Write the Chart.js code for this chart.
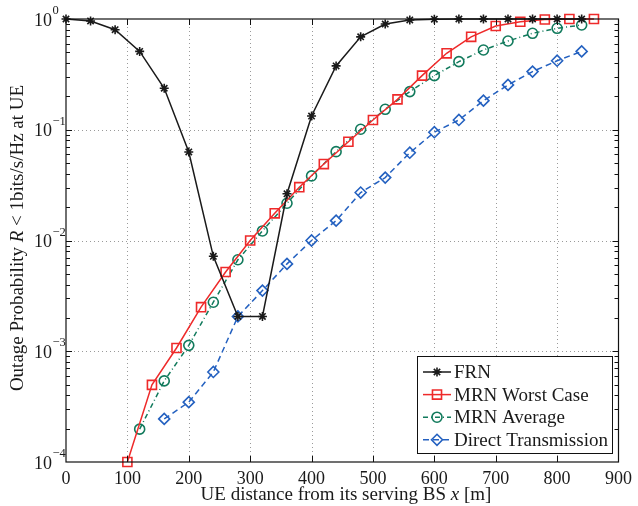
<!DOCTYPE html>
<html>
<head>
<meta charset="utf-8">
<script src="https://cdn.jsdelivr.net/npm/chart.js@4.4.1/dist/chart.umd.min.js"></script>
<style>
    html, body { margin: 0; padding: 0; background: #fff; }
    #wrap { width: 638px; height: 506px; }
</style>
</head>
<body>
<div id="wrap"><canvas id="chart" width="638" height="506"></canvas></div>
<script>
// distances [m]
const frnX = [0, 40, 80, 120, 160, 200, 240, 280, 320, 360, 400, 440, 480, 520, 560, 600, 640, 680, 720, 760, 800, 840];
const frnY = [1.0, 0.96, 0.80, 0.51, 0.237, 0.063, 0.0072, 0.00206, 0.00206, 0.0264, 0.133, 0.377, 0.69, 0.90, 0.98, 0.995, 1.0, 1.0, 1.0, 1.0, 1.0, 1.0];

const worstX = [100, 140, 180, 220, 260, 300, 340, 380, 420, 460, 500, 540, 580, 620, 660, 700, 740, 780, 820, 860];
const worstY = [1e-4, 4.97e-4, 1.07e-3, 2.5e-3, 5.2e-3, 0.0100, 0.0176, 0.0303, 0.049, 0.078, 0.1225, 0.188, 0.308, 0.49, 0.69, 0.865, 0.945, 0.99, 1.0, 1.0];

const avgX = [120, 160, 200, 240, 280, 320, 360, 400, 440, 480, 520, 560, 600, 640, 680, 720, 760, 800, 840];
const avgY = [1.98e-4, 5.4e-4, 1.13e-3, 2.77e-3, 6.7e-3, 0.0122, 0.0217, 0.0383, 0.0634, 0.101, 0.153, 0.221, 0.308, 0.412, 0.525, 0.633, 0.743, 0.824, 0.883];

const directX = [160, 200, 240, 280, 320, 360, 400, 440, 480, 520, 560, 600, 640, 680, 720, 760, 800, 840];
const directY = [2.45e-4, 3.47e-4, 6.5e-4, 2.06e-3, 3.53e-3, 6.15e-3, 0.01, 0.0151, 0.0271, 0.037, 0.062, 0.095, 0.1225, 0.183, 0.254, 0.335, 0.42, 0.51];

const xTicks = [0, 100, 200, 300, 400, 500, 600, 700, 800, 900];
const yExponents = [0, -1, -2, -3, -4];

const seriesNames = ['FRN', 'MRN Worst Case', 'MRN Average', 'Direct Transmission'];

const SERIF = '"Liberation Serif", "DejaVu Serif", serif';

function pts(xs, ys) {
    return xs.map((x, i) => ({ x: x, y: ys[i] }));
}

const datasets = [
    {
        label: seriesNames[0], data: pts(frnX, frnY),
        borderColor: '#1a1a1a', backgroundColor: '#1a1a1a',
        pointStyle: 'star', pointRadius: 4.5, pointBorderWidth: 1.6, borderWidth: 1.5
    },
    {
        label: seriesNames[1], data: pts(worstX, worstY),
        borderColor: '#ee2a2a', backgroundColor: 'rgba(255,255,255,0)',
        pointStyle: 'rect', pointRadius: 6.4, pointBorderWidth: 1.6, borderWidth: 1.5
    },
    {
        label: seriesNames[2], data: pts(avgX, avgY),
        borderColor: '#117a5c', backgroundColor: 'rgba(255,255,255,0)',
        pointStyle: 'circle', pointRadius: 5, pointBorderWidth: 1.6, borderWidth: 1.5,
        borderDash: [5, 3, 1, 3]
    },
    {
        label: seriesNames[3], data: pts(directX, directY),
        borderColor: '#2461c0', backgroundColor: 'rgba(255,255,255,0)',
        pointStyle: 'rectRot', pointRadius: 5.5, pointBorderWidth: 1.6, borderWidth: 1.5,
        borderDash: [6, 4]
    }
].map(d => Object.assign(d, { showLine: true, clip: false, tension: 0 }));

// grid, box, inward ticks, y labels with exponents, axis titles, legend
const decor = {
    id: 'decor',
    beforeDatasetsDraw(chart) {
        const { ctx, chartArea: a, scales: { x, y } } = chart;
        ctx.save();
        ctx.strokeStyle = '#9a9a9a';
        ctx.lineWidth = 1;
        ctx.setLineDash([1, 3]);
        xTicks.slice(1, -1).forEach(v => {
            const px = Math.round(x.getPixelForValue(v)) + 0.5;
            ctx.beginPath(); ctx.moveTo(px, a.top); ctx.lineTo(px, a.bottom); ctx.stroke();
        });
        yExponents.slice(1, -1).forEach(e => {
            const py = Math.round(y.getPixelForValue(Math.pow(10, e))) + 0.5;
            ctx.beginPath(); ctx.moveTo(a.left, py); ctx.lineTo(a.right, py); ctx.stroke();
        });
        ctx.restore();
    },
    afterDraw(chart) {
        const { ctx, chartArea: a, scales: { x, y } } = chart;
        ctx.save();
        ctx.strokeStyle = '#111';
        ctx.lineWidth = 1.2;
        ctx.setLineDash([]);
        ctx.strokeRect(a.left, a.top, a.right - a.left, a.bottom - a.top);

        // x ticks, inward top and bottom
        ctx.lineWidth = 1;
        xTicks.slice(1, -1).forEach(v => {
            const px = Math.round(x.getPixelForValue(v)) + 0.5;
            ctx.beginPath();
            ctx.moveTo(px, a.bottom); ctx.lineTo(px, a.bottom - 6);
            ctx.moveTo(px, a.top); ctx.lineTo(px, a.top + 6);
            ctx.stroke();
        });
        // y major and minor ticks, inward left and right
        for (let e = -4; e <= 0; e++) {
            for (let m = 1; m <= 9; m++) {
                const v = m * Math.pow(10, e);
                if (v > 1 || (e === -4 && m === 1) || (e === 0 && m === 1)) continue;
                const len = m === 1 ? 6 : 4;
                const py = Math.round(y.getPixelForValue(v)) + 0.5;
                ctx.beginPath();
                ctx.moveTo(a.left, py); ctx.lineTo(a.left + len, py);
                ctx.moveTo(a.right, py); ctx.lineTo(a.right - len, py);
                ctx.stroke();
            }
        }

        // y tick labels 10^e
        ctx.fillStyle = '#1a1a1a';
        yExponents.forEach(e => {
            const py = y.getPixelForValue(Math.pow(10, e));
            ctx.font = '18px ' + SERIF;
            ctx.textAlign = 'right';
            ctx.textBaseline = 'alphabetic';
            ctx.fillText('10', 52, py + 6.5);
            ctx.font = '12.5px ' + SERIF;
            ctx.textAlign = 'left';
            ctx.fillText(e === 0 ? '0' : '\u2212' + (-e), 52.5, py - 5);
        });

        // axis titles with italic symbols
        function mixed(parts, cx, cy) {
            let total = 0;
            parts.forEach(p => { ctx.font = p[1] + ' 19px ' + SERIF; p.w = ctx.measureText(p[0]).width; total += p.w; });
            let cur = cx - total / 2;
            ctx.textAlign = 'left';
            ctx.textBaseline = 'middle';
            parts.forEach(p => { ctx.font = p[1] + ' 19px ' + SERIF; ctx.fillText(p[0], cur, cy); cur += p.w; });
        }
        mixed([['UE distance from its serving BS ', 'normal'], ['x', 'italic'], [' [m]', 'normal']], 346, 495);
        ctx.save();
        ctx.translate(18, 238);
        ctx.rotate(-Math.PI / 2);
        mixed([['Outage Probability ', 'normal'], ['R', 'italic'], [' < 1bits/s/Hz at UE', 'normal']], 0, 0);
        ctx.restore();

        // legend box inside plot, bottom right
        const bx = 417, by = 356, bw = 195, bh = 97;
        ctx.fillStyle = '#fff';
        ctx.fillRect(bx, by, bw, bh);
        ctx.strokeStyle = '#111';
        ctx.lineWidth = 1;
        ctx.strokeRect(bx + 0.5, by + 0.5, bw, bh);
        chart.data.datasets.forEach((d, i) => {
            const ly = 372 + i * 22.6;
            ctx.save();
            ctx.strokeStyle = d.borderColor;
            ctx.fillStyle = d.backgroundColor;
            ctx.lineWidth = d.borderWidth;
            ctx.setLineDash(d.borderDash || []);
            ctx.beginPath(); ctx.moveTo(423, ly); ctx.lineTo(451, ly); ctx.stroke();
            ctx.setLineDash([]);
            ctx.lineWidth = d.pointBorderWidth;
            Chart.helpers.drawPoint(ctx, {
                pointStyle: d.pointStyle, radius: d.pointRadius, borderWidth: d.pointBorderWidth, rotation: 0
            }, 437, ly);
            ctx.restore();
            ctx.fillStyle = '#1a1a1a';
            ctx.font = '19px ' + SERIF;
            ctx.textAlign = 'left';
            ctx.textBaseline = 'middle';
            ctx.fillText(d.label, 454, ly + 1);
        });
        ctx.restore();
    }
};

const chart = new Chart(document.getElementById('chart').getContext('2d'), {
    type: 'scatter',
    data: { datasets: datasets },
    options: {
        responsive: false,
        animation: false,
        layout: { padding: { top: 19, right: 12, left: 0, bottom: 0 } },
        plugins: { legend: { display: false }, tooltip: { enabled: false } },
        scales: {
            x: {
                type: 'linear', min: 0, max: 900,
                afterBuildTicks: s => { s.ticks = xTicks.map(v => ({ value: v })); },
                afterFit: s => { s.height = 44; },
                grid: { display: false, drawTicks: false },
                border: { display: false },
                ticks: { color: '#1a1a1a', font: { family: SERIF, size: 18 }, padding: 6, maxRotation: 0 }
            },
            y: {
                type: 'logarithmic', min: 1e-4, max: 1,
                afterFit: s => { s.width = 66; },
                grid: { display: false, drawTicks: false },
                border: { display: false },
                ticks: { display: false }
            }
        }
    },
    plugins: [decor]
});
</script>
</body>
</html>
